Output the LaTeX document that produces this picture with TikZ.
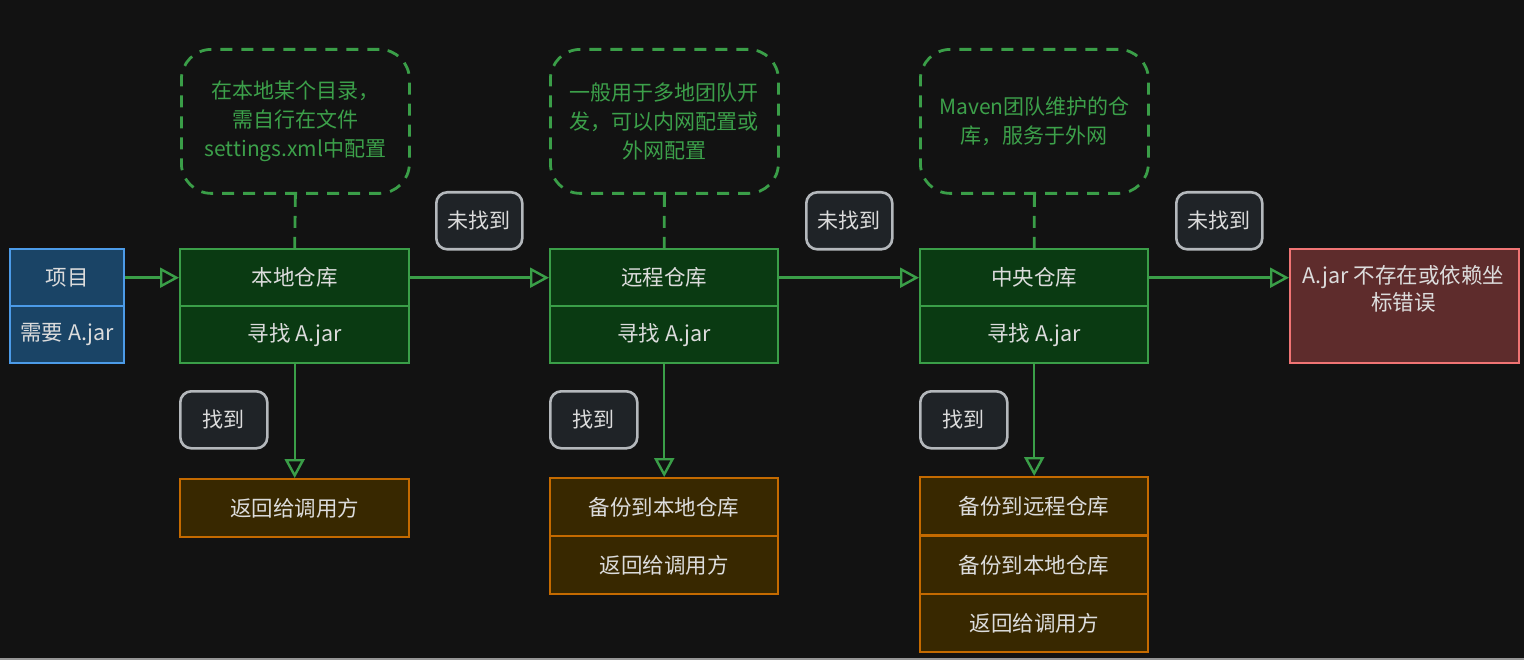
\documentclass[tikz,border=0pt]{standalone}
\usepackage{fontspec}
\setmainfont{Noto Sans CJK SC}
\usetikzlibrary{arrows.meta}
\definecolor{bg}{HTML}{121212}
\definecolor{bluefill}{HTML}{1A4466}
\definecolor{bluestroke}{HTML}{4C9BE8}
\definecolor{greenfill}{HTML}{0A3A12}
\definecolor{greenstroke}{HTML}{3A9E48}
\definecolor{orfill}{HTML}{382800}
\definecolor{orstroke}{HTML}{C46A00}
\definecolor{redfill}{HTML}{5E2C2C}
\definecolor{redstroke}{HTML}{F07474}
\definecolor{lblfill}{HTML}{1F2327}
\definecolor{lblstroke}{HTML}{B4B8BC}
\definecolor{txt}{HTML}{DCDCDC}
\definecolor{notetxt}{HTML}{3CA04A}
\tikzset{
  cell/.style={rectangle, anchor=north west, inner sep=0pt, line width=2.4pt,
    text=txt, font=\fontsize{21.5}{26}\selectfont, align=center},
  bluecell/.style={cell, draw=bluestroke, fill=bluefill},
  greencell/.style={cell, draw=greenstroke, fill=greenfill},
  orcell/.style={cell, draw=orstroke, fill=orfill},
  redcell/.style={cell, draw=redstroke, fill=redfill},
  notebox/.style={rectangle, anchor=north west, inner sep=0pt, draw=greenstroke,
    line width=2.8pt, dash pattern=on 12pt off 9pt, rounded corners=30pt,
    text=notetxt, font=\fontsize{21}{29}\selectfont, align=center,
    minimum width=228pt, minimum height=144pt},
  lbl/.style={rectangle, anchor=north west, inner sep=0pt, draw=lblstroke,
    fill=lblfill, line width=2.6pt, rounded corners=11pt, text=txt,
    font=\fontsize{21}{24}\selectfont, minimum height=57pt},
  flow/.style={draw=greenstroke, line width=2.4pt,
    -{Triangle[open, length=19pt, width=20pt]}},
  link/.style={draw=greenstroke, line width=2.8pt, dash pattern=on 12pt off 9pt},
}
\begin{document}
\begin{tikzpicture}[x=1pt,y=-1pt]
\fill[bg] (0,0) rectangle (1524,660);
\fill[color={rgb,255:red,150;green,150;blue,150}] (0,658) rectangle (1524,660);
\useasboundingbox (0,0) rectangle (1524,660);

% project
\node[bluecell, minimum width=114pt, minimum height=57pt] (p1) at (9,248) {项目};
\node[bluecell, minimum width=114pt, minimum height=57pt] (p2) at (9,305) {需要 A.jar};

% local
\node[greencell, minimum width=229pt, minimum height=57pt] (l1) at (179,248) {本地仓库};
\node[greencell, minimum width=229pt, minimum height=57pt] (l2) at (179,305) {寻找 A.jar};
% remote
\node[greencell, minimum width=228pt, minimum height=57pt] (r1) at (549,248) {远程仓库};
\node[greencell, minimum width=228pt, minimum height=57pt] (r2) at (549,305) {寻找 A.jar};
% central
\node[greencell, minimum width=228pt, minimum height=57pt] (c1) at (919,248) {中央仓库};
\node[greencell, minimum width=228pt, minimum height=57pt] (c2) at (919,305) {寻找 A.jar};

% error
\node[redcell, minimum width=229pt, minimum height=114pt] (err) at (1289,248) {};
\node[text=txt, font=\fontsize{21.5}{27}\selectfont, align=center, anchor=north, inner sep=0pt]
  (errt) at (1403.5,265) {A.jar 不存在或依赖坐\\标错误};

% notes
\node[notebox] (n1) at (180,48) {在本地某个目录，\\需自行在文件\\settings.xml中配置};
\node[notebox] (n2) at (549,48) {一般用于多地团队开\\发，可以内网配置或\\外网配置};
\node[notebox] (n3) at (919,48) {Maven团队维护的仓\\库，服务于外网};

% results
\node[orcell, minimum width=229pt, minimum height=58pt] (lr1) at (179,478) {返回给调用方};
\node[orcell, minimum width=228pt, minimum height=58pt] (rr1) at (549,477) {备份到本地仓库};
\node[orcell, minimum width=228pt, minimum height=58pt] (rr2) at (549,535) {返回给调用方};
\node[orcell, minimum width=228pt, minimum height=58pt] (cr1) at (919,476) {备份到远程仓库};
\node[orcell, minimum width=228pt, minimum height=58pt] (cr2) at (919,535) {备份到本地仓库};
\node[orcell, minimum width=228pt, minimum height=58pt] (cr3) at (919,593) {返回给调用方};

% labels
\node[lbl, minimum width=86pt] (nf1) at (435,191) {未找到};
\node[lbl, minimum width=86pt] (nf2) at (805,191) {未找到};
\node[lbl, minimum width=86pt] (nf3) at (1175,191) {未找到};
\node[lbl, minimum width=87pt] (f1) at (179,390) {找到};
\node[lbl, minimum width=87pt] (f2) at (549,390) {找到};
\node[lbl, minimum width=87pt] (f3) at (919,390) {找到};

% dashed links
\draw[link] (n1.south) -- (l1.north);
\draw[link] (n2.south) -- (r1.north);
\draw[link] (n3.south) -- (c1.north);

% flow arrows
\draw[flow] (p1.east) -- (l1.west);
\draw[flow] (l1.east) -- (r1.west);
\draw[flow] (r1.east) -- (c1.west);
\draw[flow] (c1.east) -- (err.west |- c1.east);
\draw[flow] (l2.south) -- (lr1.north);
\draw[flow] (r2.south) -- (rr1.north);
\draw[flow] (c2.south) -- (cr1.north);
\end{tikzpicture}
\end{document}
